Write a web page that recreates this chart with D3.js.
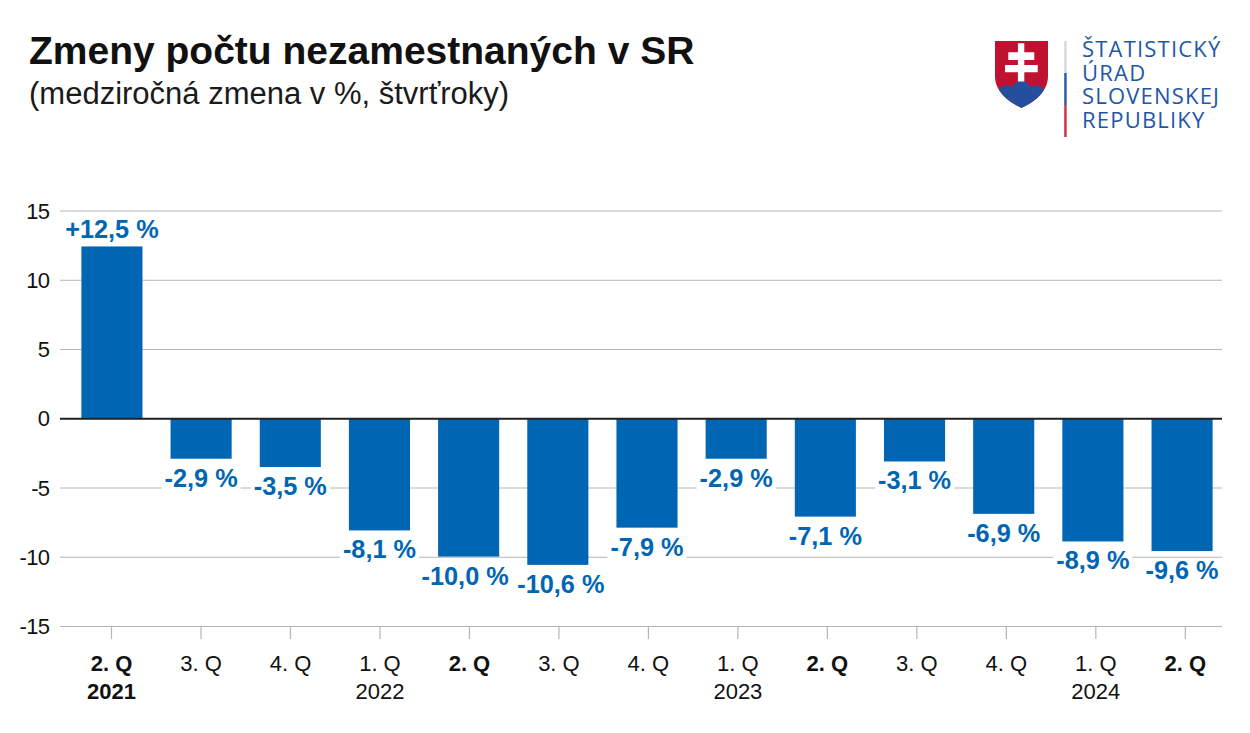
<!DOCTYPE html>
<html><head><meta charset="utf-8">
<script src="https://cdn.jsdelivr.net/npm/d3@7/dist/d3.min.js"></script>
<style>html,body{margin:0;padding:0;background:#fff}svg{display:block}text{font-family:"Liberation Sans",Arial,sans-serif}</style>
</head><body><svg id="c" width="1250" height="733"></svg>
<script>
const quarters=["2. Q","3. Q","4. Q","1. Q","2. Q","3. Q","4. Q","1. Q","2. Q","3. Q","4. Q","1. Q","2. Q"];
const years=["2021","","","2022","","","","2023","","","","2024",""];
const values=[12.5,-2.9,-3.5,-8.1,-10.0,-10.6,-7.9,-2.9,-7.1,-3.1,-6.9,-8.9,-9.6];
const valueLabels=["+12,5 %","-2,9 %","-3,5 %","-8,1 %","-10,0 %","-10,6 %","-7,9 %","-2,9 %","-7,1 %","-3,1 %","-6,9 %","-8,9 %","-9,6 %"];
const boldQuarters=[0,4,8,12];
const yTicks=[15,10,5,0,-5,-10,-15];
const logoLines=["ŠTATISTICKÝ","ÚRAD","SLOVENSKEJ","REPUBLIKY"];
const svg=d3.select("#c");
const x=d3.scaleBand().domain(d3.range(values.length)).range([67.3,1226.7]).paddingInner(0.315).paddingOuter(0.158);
const tickX=d3.scalePoint().domain(d3.range(values.length)).range([111.5,1185.3]);
const y=d3.scaleLinear().domain([-15,15]).range([626.5,211]);
// the reference draws its bars slightly shorter than the gridline scale
const barY=d3.scaleLinear().domain([-15,15]).range([y(-14.93),y(14.93)]);
const W=1222,L=60,blue="#0066B3";
// the two neighbouring wide labels are pushed apart in the reference
const labelDx=i=>i===4?-3.5:i===5?3:0;
const plateExtra=i=>i===5?9:0;
svg.append("text").attr("x",29).attr("y",64.3).attr("font-size",39).attr("font-weight",700).attr("fill","#111").text("Zmeny počtu nezamestnaných v SR");
svg.append("text").attr("x",29).attr("y",103.5).attr("font-size",31).attr("fill","#1a1a1a").text("(medziročná zmena v %, štvrťroky)");
// grid
svg.append("g").selectAll("line").data(yTicks).join("line").attr("x1",L).attr("x2",W).attr("y1",d=>y(d)).attr("y2",d=>y(d)).attr("stroke","#b5b5b5").attr("stroke-width",1.2);
svg.append("g").selectAll("text").data(yTicks).join("text").attr("x",49.5).attr("y",d=>y(d)+7.5).attr("text-anchor","end").attr("font-size",22).attr("letter-spacing",-0.6).attr("fill","#111").text(d=>d);
const cx=i=>x(i)+x.bandwidth()/2;
const labelY=d=>d>0?barY(d)-8.5:barY(d)+28;
const plates=svg.append("g");
const bars=svg.append("g");
bars.selectAll("rect").data(values).join("rect").attr("x",(d,i)=>x(i)).attr("width",x.bandwidth()).attr("y",d=>barY(Math.max(d,0))).attr("height",d=>Math.abs(barY(d)-barY(0))).attr("fill",blue);
const labels=svg.append("g");
labels.selectAll("text").data(values).join("text").attr("x",(d,i)=>cx(i)+labelDx(i)).attr("y",labelY).attr("text-anchor","middle").attr("font-size",25.3).attr("font-weight",700).attr("fill",blue).text((d,i)=>valueLabels[i]);
labels.selectAll("text").each(function(d,i){
  const w=this.getComputedTextLength();
  plates.append("rect").attr("x",cx(i)+labelDx(i)-w/2-3).attr("width",w+6).attr("y",labelY(d)-20-plateExtra(i)).attr("height",25+plateExtra(i)).attr("fill","#fff");
});
svg.append("line").attr("x1",L).attr("x2",W).attr("y1",y(0)).attr("y2",y(0)).attr("stroke","#222").attr("stroke-width",1.8);
// ticks
svg.append("g").selectAll("line").data(values).join("line").attr("x1",(d,i)=>tickX(i)).attr("x2",(d,i)=>tickX(i)).attr("y1",y(-15)).attr("y2",y(-15)+12.5).attr("stroke","#b5b5b5").attr("stroke-width",1.2);
// axis labels
svg.append("g").selectAll("text").data(quarters).join("text").attr("x",(d,i)=>tickX(i)).attr("y",670.7).attr("text-anchor","middle").attr("font-size",22).attr("fill","#111").attr("font-weight",(d,i)=>boldQuarters.includes(i)?700:400).text(d=>d);
svg.append("g").selectAll("text").data(years).join("text").attr("x",(d,i)=>tickX(i)).attr("y",699.3).attr("text-anchor","middle").attr("font-size",22).attr("fill","#111").attr("font-weight",(d,i)=>i===0?700:400).text(d=>d);
// logo
const g=svg.append("g");
const shield="M995 41H1048V76C1048 92 1034 102 1021.5 108C1009 102 995 92 995 76Z";
svg.append("defs").append("clipPath").attr("id","shieldClip").append("path").attr("d",shield);
g.append("path").attr("d",shield).attr("fill","#BE1230");
g.append("path").attr("clip-path","url(#shieldClip)").attr("d","M998 91Q1002 85 1007 85.5Q1011 85.5 1013 87Q1014 81 1021.5 81Q1029 81 1030 87Q1032 85.5 1036 85.5Q1041 85 1045 91V110H998Z").attr("fill","#234F9E");
g.append("path").attr("d","M1017.9 43.3H1024.3V52.3H1034.3V60H1024.3V65H1037.7V72.3H1024.3V81.5H1017.9V72.3H1005V65H1017.9V60H1008.3V52.3H1017.9Z").attr("fill","#fff");
[["#d9d9d9",41,73],["#2a5ca8",73,105],["#d4324a",105,137]].forEach(s=>g.append("rect").attr("x",1064.2).attr("width",2.5).attr("y",s[1]).attr("height",s[2]-s[1]).attr("fill",s[0]));
g.selectAll("text").data(logoLines).join("text").attr("x",1082).attr("y",(d,i)=>57+i*23.7).attr("font-size",22).attr("letter-spacing",1.2).attr("fill","#1f57a4").style("font-family","'Open Sans'").text(d=>d);
</script></body></html>
